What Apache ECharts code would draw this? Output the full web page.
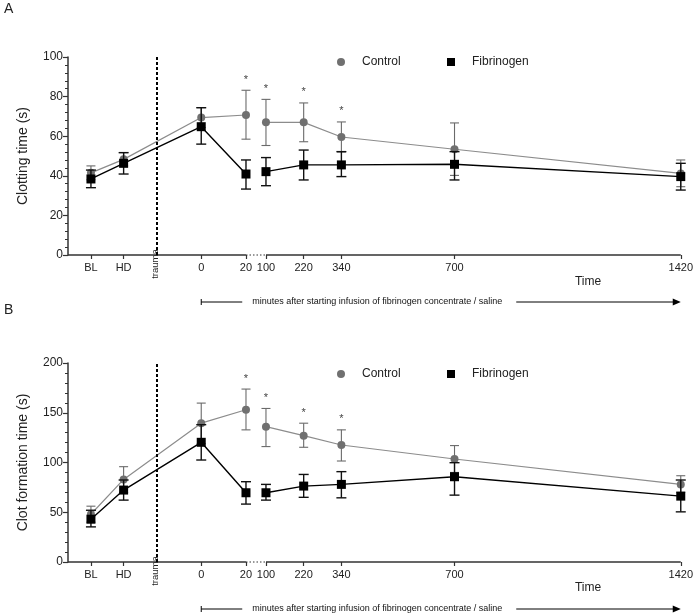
<!DOCTYPE html>
<html><head><meta charset="utf-8">
<script src="https://cdn.jsdelivr.net/npm/echarts@6/dist/echarts.min.js"></script>
<style>html,body{margin:0;padding:0;background:#fff}#c{width:696px;height:616px}</style>
</head><body><div id="c"></div>
<script>
// ---- data ----
const timeLabels = ['BL','HD','0','20','100','220','340','700','1420'];
const significant = [0,0,0,1,1,1,1,0,0];

// Panel A: clotting time (s)
const ctControl     = [41.5, 48.3, 69.4, 70.7, 67.0, 67.0, 59.6, 53.4, 41.2];
const ctControlHigh = [45.0, 51.7, 74.4, 83.2, 78.6, 76.8, 67.2, 66.7, 48.0];
const ctControlLow  = [38.0, 45.0, 64.4, 58.5, 55.3, 57.2, 52.0, 40.2, 34.5];
const ctFib         = [38.4, 46.3, 64.8, 40.9, 42.1, 45.5, 45.5, 45.8, 39.6];
const ctFibHigh     = [42.9, 51.7, 74.4, 48.0, 49.2, 53.0, 52.2, 52.2, 46.3];
const ctFibLow      = [34.0, 40.9, 56.0, 33.3, 35.0, 37.9, 39.6, 37.9, 32.8];

// Panel B: clot formation time (s)
const cftControl     = [48.0, 83.0, 139.5, 153.0, 136.0, 127.0, 117.6, 103.5, 78.0];
const cftControlHigh = [56.1, 95.8, 159.7, 173.8, 154.3, 139.5, 132.8, 117.0, 86.7];
const cftControlLow  = [40.0, 70.0, 119.0, 132.8, 116.0, 115.3, 101.5, 90.0, 70.0];
const cftFib         = [43.0, 72.3, 120.3, 69.6, 69.6, 76.3, 78.0, 85.7, 66.2];
const cftFibHigh     = [52.0, 82.4, 138.0, 80.7, 78.0, 88.0, 90.8, 99.8, 82.4];
const cftFibLow      = [35.3, 62.2, 102.5, 58.2, 62.2, 65.0, 64.5, 67.2, 50.4];

const yTicksA = {min: 0, max: 100, interval: 20};
const yTicksB = {min: 0, max: 200, interval: 50};

// ---- broken time axis scale (pre-infusion slots, 0-20 stretched, gap, then linear minutes) ----
const PRE_SLOTS = {BL: -351, HD: -247, trauma: -142};
function axisPos(label) {
  if (label in PRE_SLOTS) return PRE_SLOTS[label];
  const t = +label;
  return t <= 20 ? t * 7.12 : 206 + (t - 100);
}
const X_MIN = -424, X_MAX = 1526;
const P20 = axisPos('20'), P100 = axisPos('100'), PGAP = (P20 + P100) / 2;
const labelByPos = {};
timeLabels.forEach(l => { labelByPos[axisPos(l)] = l; });
const tickPositions = timeLabels.map(axisPos);

function lineData(vals) {
  const out = [];
  timeLabels.forEach((l, i) => {
    if (l === '100') out.push([PGAP, null]);
    out.push([axisPos(l), vals[i]]);
  });
  return out;
}
function errData(low, high, stars) {
  return timeLabels.map((l, i) => [axisPos(l), low[i], high[i], stars ? stars[i] : 0]);
}
function errRender(capW, color, lw) {
  return function (params, api) {
    const x = api.value(0);
    const lo = api.coord([x, api.value(1)]);
    const hi = api.coord([x, api.value(2)]);
    const children = [
      {type: 'line', shape: {x1: lo[0], y1: lo[1], x2: hi[0], y2: hi[1]}, style: {stroke: color, lineWidth: lw}},
      {type: 'line', shape: {x1: lo[0] - capW / 2, y1: lo[1], x2: lo[0] + capW / 2, y2: lo[1]}, style: {stroke: color, lineWidth: lw}},
      {type: 'line', shape: {x1: hi[0] - capW / 2, y1: hi[1], x2: hi[0] + capW / 2, y2: hi[1]}, style: {stroke: color, lineWidth: lw}}
    ];
    if (api.value(3)) {
      children.push({type: 'text', x: hi[0], y: hi[1] - 5,
        style: {text: '*', fill: '#444', font: '11px "Liberation Sans", Arial, sans-serif', align: 'center', verticalAlign: 'bottom'}});
    }
    return {type: 'group', children};
  };
}
function traumaRender(params, api) {
  const p = api.coord([api.value(0), 0]);
  return {type: 'text', x: p[0] - 1, y: p[1] + 9, rotation: Math.PI / 2,
    style: {text: 'trauma', fill: '#222', font: '9.5px "Liberation Sans", sans-serif', align: 'center', verticalAlign: 'middle'}};
}

const GRAY_LINE = '#8c8c8c', GRAY_MARK = '#707070', AXIS = '#333';
const FONT = '"Liberation Sans", Arial, sans-serif';

function xAxisCfg(gi) {
  return {
    type: 'value', gridIndex: gi, min: X_MIN, max: X_MAX,
    axisLine: {show: false, onZero: false}, splitLine: {show: false},
    axisTick: {show: true, customValues: tickPositions, length: 4, lineStyle: {color: AXIS, width: 1.2}},
    axisLabel: {show: true, customValues: tickPositions, margin: 7, color: '#222', fontSize: 11, fontFamily: FONT,
      formatter: v => labelByPos[v] !== undefined ? labelByPos[v] : ''}
  };
}
function yAxisCfg(gi, ticks, name) {
  return {
    type: 'value', gridIndex: gi, min: ticks.min, max: ticks.max, interval: ticks.interval,
    name: name, nameLocation: 'middle', nameGap: 38,
    nameTextStyle: {fontSize: 14, color: '#222', fontFamily: FONT},
    axisLine: {show: true, onZero: false, lineStyle: {color: AXIS, width: 1.5}},
    axisTick: {show: true, length: 5, lineStyle: {color: AXIS, width: 1.2}},
    minorTick: {show: true, splitNumber: 5, length: 3, lineStyle: {color: AXIS, width: 1}},
    splitLine: {show: false},
    axisLabel: {color: '#222', fontSize: 12, fontFamily: FONT, margin: 5}
  };
}

function panelSeries(gi, ctl, ctlLo, ctlHi, fib, fibLo, fibHi) {
  return [
    {type: 'line', name: 'axisline', xAxisIndex: gi, yAxisIndex: gi, clip: false, silent: true, symbol: 'none',
      data: [[X_MIN, 0], [P20, 0], [PGAP, null], [P100, 0], [X_MAX, 0]],
      lineStyle: {color: AXIS, width: 1.5}, z: 1,
      markLine: {silent: true, symbol: 'none', label: {show: false},
        lineStyle: {color: '#000', width: 2, type: [3, 2]},
        data: [{xAxis: axisPos('trauma')}]}},
    {type: 'line', name: 'axisgap', xAxisIndex: gi, yAxisIndex: gi, clip: false, silent: true, symbol: 'none',
      data: [[P20, 0], [P100, 0]], lineStyle: {color: AXIS, width: 1.2, type: [1.5, 2]}, z: 1},
    {type: 'custom', name: 'trauma', xAxisIndex: gi, yAxisIndex: gi, clip: false, silent: true,
      data: [[axisPos('trauma')]], renderItem: traumaRender, z: 3},
    {type: 'custom', name: 'Control err', xAxisIndex: gi, yAxisIndex: gi, silent: true,
      data: errData(ctlLo, ctlHi, significant), renderItem: errRender(9, '#6a6a6a', 1.1), z: 2},
    {type: 'line', name: 'Control', xAxisIndex: gi, yAxisIndex: gi, data: lineData(ctl),
      symbol: 'circle', symbolSize: 8, connectNulls: false,
      lineStyle: {color: GRAY_LINE, width: 1.2}, itemStyle: {color: GRAY_MARK}, z: 3},
    {type: 'custom', name: 'Fibrinogen err', xAxisIndex: gi, yAxisIndex: gi, silent: true,
      data: errData(fibLo, fibHi, null), renderItem: errRender(10, '#111', 1.4), z: 4},
    {type: 'line', name: 'Fibrinogen', xAxisIndex: gi, yAxisIndex: gi, data: lineData(fib),
      symbol: 'rect', symbolSize: 9, connectNulls: false,
      lineStyle: {color: '#000', width: 1.4}, itemStyle: {color: '#000'}, z: 5}
  ];
}

function legendCfg(top) {
  const base = {top: top, itemWidth: 8, itemHeight: 8, selectedMode: false,
    textStyle: {fontSize: 12, color: '#222', fontFamily: FONT, padding: [0, 0, 0, 12]}};
  return [
    Object.assign({left: 332, data: [{name: 'Control', icon: 'circle', itemStyle: {color: GRAY_MARK}}]}, base),
    Object.assign({left: 442, data: [{name: 'Fibrinogen', icon: 'rect', itemStyle: {color: '#000'}}]}, base)
  ];
}

const chart = echarts.init(document.getElementById('c'), null, {renderer: 'canvas'});
chart.setOption({
  animation: false,
  backgroundColor: '#fff',
  textStyle: {fontFamily: FONT},
  grid: [
    {left: 68, right: 12, top: 57, height: 198},
    {left: 68, right: 12, top: 363, height: 199}
  ],
  xAxis: [xAxisCfg(0), xAxisCfg(1)],
  yAxis: [yAxisCfg(0, yTicksA, 'Clotting time (s)'), yAxisCfg(1, yTicksB, 'Clot formation time (s)')],
  legend: legendCfg(51).concat(legendCfg(363)),
  series: panelSeries(0, ctControl, ctControlLow, ctControlHigh, ctFib, ctFibLow, ctFibHigh)
    .concat(panelSeries(1, cftControl, cftControlLow, cftControlHigh, cftFib, cftFibLow, cftFibHigh))
});

function arrowGroup(y) {
  const x0 = chart.convertToPixel({xAxisIndex: 0}, axisPos('0'));
  const x1 = chart.convertToPixel({xAxisIndex: 0}, axisPos('1420'));
  const st = {stroke: '#000', lineWidth: 1};
  return {type: 'group', children: [
    {type: 'line', shape: {x1: x0, y1: y - 3, x2: x0, y2: y + 3}, style: st},
    {type: 'line', shape: {x1: x0, y1: y, x2: x0 + 41, y2: y}, style: st},
    {type: 'text', x: x0 + 51, y: y, style: {text: 'minutes after starting infusion of fibrinogen concentrate / saline',
      font: '9px "Liberation Sans", sans-serif', fill: '#111', verticalAlign: 'middle'}},
    {type: 'line', shape: {x1: x0 + 315, y1: y, x2: x1 - 6, y2: y}, style: st},
    {type: 'polygon', shape: {points: [[x1 - 8, y - 3.5], [x1, y], [x1 - 8, y + 3.5]]}, style: {fill: '#000'}}
  ]};
}
chart.setOption({
  graphic: [
    {type: 'text', left: 4, top: 2, style: {text: 'A', font: '14px ' + FONT, fill: '#222'}},
    {type: 'text', left: 4, top: 303, style: {text: 'B', font: '14px ' + FONT, fill: '#222'}},
    {type: 'text', x: 588, y: 282, style: {text: 'Time', font: '12px ' + FONT, fill: '#222', align: 'center', verticalAlign: 'middle'}},
    {type: 'text', x: 588, y: 588, style: {text: 'Time', font: '12px ' + FONT, fill: '#222', align: 'center', verticalAlign: 'middle'}},
    arrowGroup(302),
    arrowGroup(609)
  ]
});
</script>
</body></html>
